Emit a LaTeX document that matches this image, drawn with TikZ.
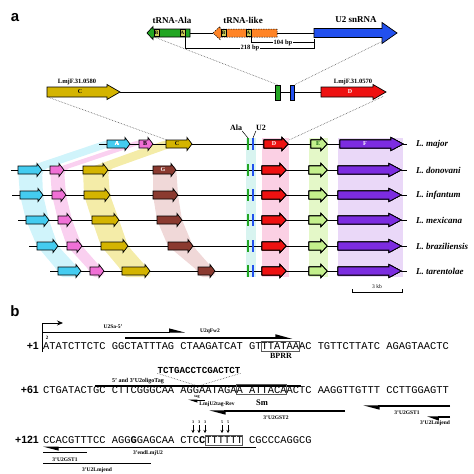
\documentclass[tikz,border=0pt]{standalone}
\usepackage{fontspec}
\setmainfont{Liberation Serif}
\setmonofont{Liberation Mono}
\newfontfamily\panelfont{Liberation Sans}
\usetikzlibrary{arrows.meta}

\definecolor{trnagreen}{HTML}{22A622}
\definecolor{trnaorange}{HTML}{FF8426}
\definecolor{u2blue}{HTML}{2250EE}
\definecolor{motifyellow}{HTML}{CCCC55}
\definecolor{gcyan}{HTML}{44CCF0}
\definecolor{gpink}{HTML}{F070D6}
\definecolor{gyellow}{HTML}{D4B400}
\definecolor{gbrown}{HTML}{8B3A30}
\definecolor{gred}{HTML}{EE1111}
\definecolor{glime}{HTML}{C4F08C}
\definecolor{gpurple}{HTML}{7C2CE0}
\definecolor{bcyan}{HTML}{D0F4FB}
\definecolor{bpink}{HTML}{FAD0F0}
\definecolor{byellow}{HTML}{F4ECA8}
\definecolor{bbrown}{HTML}{F0D8D8}
\definecolor{bred}{HTML}{FBD0E4}
\definecolor{blime}{HTML}{E4F8C8}
\definecolor{bpurple}{HTML}{EAD8F8}
\definecolor{bsmall}{HTML}{D8F4F0}

\tikzset{
  genebox/.style={draw=black, line width=0.7pt, line join=miter},
  chrom/.style={line width=0.8pt},
  title/.style={font=\fontsize{9}{10}\selectfont\bfseries, inner sep=0},
  locus/.style={font=\fontsize{6.5}{7}\selectfont\bfseries, inner sep=0},
  glab/.style={font=\fontsize{6}{7}\selectfont\bfseries, inner sep=0},
  motif/.style={draw, fill=motifyellow, line width=0.5pt, minimum width=5.5,
    minimum height=7, inner sep=0, font=\fontsize{5}{5}\selectfont\bfseries},
  bar/.style={draw, line width=0.5pt, minimum width=4.5, minimum height=15, inner sep=0},
  zoomline/.style={densely dotted, gray!70!black, line width=0.6pt},
  species/.style={font=\fontsize{9}{10}\selectfont\bfseries\itshape, anchor=west, inner sep=0},
  seq/.style={font=\fontsize{10.4}{12}\selectfont\ttfamily, inner sep=0, anchor=base west},
  plabel/.style={font=\panelfont\fontsize{10.5}{12}\selectfont\bfseries, anchor=east, inner sep=0},
  prim/.style={font=\fontsize{5.5}{6}\selectfont\bfseries, inner sep=0},
  primer/.style={line width=1.3pt, -{Triangle[harpoon,length=14pt,width=7pt]}},
  seqbox/.style={draw=gray!70!black, line width=0.6pt},
}

% block arrow: x start, x tip, y, half body, half head, head length
\newcommand{\gene}[7][]{%
  \draw[genebox,#1] (#2,{#4-#5}) -- ({#3-#7},{#4-#5}) -- ({#3-#7},{#4-#6}) -- (#3,#4)
    -- ({#3-#7},{#4+#6}) -- ({#3-#7},{#4+#5}) -- (#2,{#4+#5}) -- cycle;}

\begin{document}
\begin{tikzpicture}[x=1pt,y=-1pt]
\useasboundingbox (0,0) rectangle (474,474);

% panel a
\node[font=\panelfont\fontsize{15}{16}\selectfont\bfseries] (pa) at (15,18) {a};

% inset with the tRNAs and U2
\node[title] (alaname) at (172,20) {tRNA-Ala};
\node[title] (likename) at (243,20) {tRNA-like};
\node[title] (u2name) at (356,20) {U2 snRNA};
\draw[chrom] (190,33) -- (213,33) (277,33) -- (314,33);
\gene[fill=trnagreen]{190}{147}{33}{4}{6.5}{(-6)}
\gene[fill=trnaorange, line width=0.5pt, dash pattern=on 1.5pt off 1pt]{277}{213}{33}{4}{6.5}{(-7)}
\gene[fill=u2blue]{314}{397}{33}{4.5}{10.5}{15}
\node[motif] (alaB) at (156.5,33) {B};
\node[motif] (alaA) at (182.5,33) {A};
\node[motif] (likeB) at (223.5,33) {B};
\node[motif] (likeA) at (248.5,33) {A};
\draw[line width=0.6pt] (likeA.south east) |- (314,42.5) -- (314,38.5);
\draw[line width=0.6pt] (alaA.south east) |- (314,48) -- (314,42.5);
\node[locus, fill=white, inner sep=1] (bp104) at (283,42.5) {104 bp};
\node[locus, fill=white, inner sep=1] (bp218) at (250,48) {218 bp};

% locus on chromosome 31
\node[locus] (c580) at (77,82) {LmjF.31.0580};
\node[locus] (c570) at (353,82) {LmjF.31.0570};
\draw[chrom] (120,92) -- (321,92);
\gene[fill=gyellow]{47}{120}{92}{5}{7.5}{13}
\gene[fill=gred]{321}{386}{92}{5}{7.5}{13}
\node[glab] (labC) at (80,92) {C};
\node[glab, white] (labD) at (350,92) {D};
\node[bar, fill=trnagreen] (gbar) at (277.5,92.5) {};
\node[bar, fill=u2blue] (bbar) at (292,92.5) {};
\coordinate (u2end) at (386,39.5);
\coordinate (cstart) at (49,97.5);
\coordinate (dend) at (383,96.5);
\coordinate (majC) at (167,140);
\coordinate (majD) at (288,140.5);
\draw[zoomline] (alaB.south west) -- (gbar.north);
\draw[zoomline] (u2end) -- (bbar.north east);
\draw[zoomline] (cstart) -- (majC);
\draw[zoomline] (dend) -- (majD);

% synteny bands
\begin{scope}[rounded corners=5pt]
\fill[bcyan] (107,140) -- (18,170) -- (20,195) -- (26,220) -- (37,246) -- (58,271) -- (58,277)
  -- (81,277) -- (81,271) -- (58,246) -- (49,220) -- (43,195) -- (42,170) -- (130,140) -- cycle;
\fill[bpink] (139,140) -- (50,170) -- (52,195) -- (58,220) -- (67,246) -- (90,271) -- (90,277)
  -- (104,277) -- (104,271) -- (82,246) -- (72,220) -- (66,195) -- (64,170) -- (153,140) -- cycle;
\fill[byellow] (166,140) -- (83,170) -- (84,195) -- (92,220) -- (101,246) -- (122,271) -- (122,277)
  -- (150,277) -- (150,271) -- (128,246) -- (119,220) -- (110,195) -- (108,170) -- (192,140) -- cycle;
\fill[bbrown] (153,165) -- (153,195) -- (157,220) -- (168,246) -- (198,271) -- (198,277)
  -- (215,277) -- (215,271) -- (193,246) -- (182,220) -- (178,195) -- (176,165) -- cycle;
\end{scope}
\fill[bsmall] (245.5,138) rectangle (255.5,277);
\fill[bred] (262,138) rectangle (289,277);
\fill[blime] (309,138) rectangle (328,277);
\fill[bpurple] (338,138) rectangle (403,277);

% six genomes
\foreach \y/\xs in {144/99,170/11,195/12,220/18,246/29,271/50}
  \draw[chrom] (\xs,\y) -- (407,\y);
\foreach \y/\ca/\cb/\pa/\pb/\ya/\yb in {144/107/130/139/153/166/192, 170/18/42/50/64/83/108,
    195/20/43/52/66/84/110, 220/26/49/58/72/92/119, 246/37/58/67/82/101/128, 271/58/81/90/104/122/150} {
  \gene[fill=gcyan]{\ca}{\cb}{\y}{4}{6.5}{5}
  \gene[fill=gpink]{\pa}{\pb}{\y}{4}{6.5}{5}
  \gene[fill=gyellow]{\ya}{\yb}{\y}{4}{6.5}{5}
}
\foreach \y/\ga/\gb in {170/153/176, 195/153/178, 220/157/182, 246/168/193, 271/198/215}
  \gene[fill=gbrown]{\ga}{\gb}{\y}{4}{6.5}{5}
\foreach \y/\dx in {144/2, 170/0, 195/0, 220/0, 246/0, 271/0} {
  \draw[trnagreen, line width=1.5pt] (248,\y-6) -- (248,\y+6);
  \draw[u2blue, line width=1.5pt] (253,\y-6) -- (253,\y+6);
  \gene[fill=gred]{262+\dx}{286+\dx}{\y}{4}{6.5}{6}
  \gene[fill=glime]{309+\dx}{327}{\y}{4}{6.5}{6}
  \gene[fill=gpurple]{338+\dx}{401+\dx}{\y}{4}{6.5}{12}
}
\node[glab, white] (labA) at (117,144) {A};
\node[glab] (labB) at (145,144) {B};
\node[glab] (labCm) at (177,144) {C};
\node[glab, white] (labG) at (163,170) {G};
\node[glab, white] (labDm) at (274,144) {D};
\node[glab, trnagreen!60!black] (labE) at (318,144) {E};
\node[glab, white] (labF) at (365,144) {F};
\node[title, font=\fontsize{8}{9}\selectfont\bfseries] (alalab) at (236,128) {Ala};
\node[title, font=\fontsize{8}{9}\selectfont\bfseries] (u2lab) at (261,128) {U2};
\draw[line width=0.5pt] (alalab.south east) -- (248,138);
\draw[line width=0.5pt] (u2lab.south west) -- (253,138);
\foreach \y/\sp [count=\i] in {144/major, 170/donovani, 195/infantum, 220/mexicana, 246/braziliensis, 271/tarentolae}
  \node[species] (sp\i) at (416,\y) {L. \sp};
\draw[line width=0.8pt] (352,289) -- (352,292) -- (402,292) -- (402,289);
\node[font=\fontsize{5.5}{6}\selectfont] (kb) at (377,286.5) {3 kb};

% panel b
\node[font=\panelfont\fontsize{15}{16}\selectfont\bfseries] (pb) at (15,311) {b};
\node[plabel] (n1) at (39,346) {+1};
\node[plabel] (n61) at (39,390) {+61};
\node[plabel] (n121) at (39,440) {+121};
\node[seq] (s1) at (43,349.5) {ATATCTTCTC GGCTATTTAG CTAAGATCAT GTTTATAAAC TGTTCTTATC AGAGTAACTC};
\node[seq] (s61) at (43,393.5) {CTGATACTGC CTTCGGGCAA AGGAATAGAA ATTACAACTC AAGGTTGTTT CCTTGGAGTT};
\node[seq] (s121) at (43,443.5) {CCACGTTTCC AGG\textbf{G}GAGCAA CTC\textbf{C}TTTTTT CGCCCAGGCG};

% +1 line
\draw[line width=0.8pt, -{Stealth[length=6pt,width=5pt]}] (42,352) -- (42,323) -- (63,323);
\node[prim, font=\fontsize{5}{5}\selectfont\bfseries] (tss) at (47,338) {2};
\node[prim] (u2sa) at (113,327) {U2Sa-5'};
\draw[primer, line width=1pt] (43,332) -- (185,332);
\node[prim] (u2qfw) at (210,331) {U2qFw2};
\draw[primer, line width=1.8pt] (125,338) -- (293,338);
\draw[seqbox] (261.4,341) rectangle (298.8,351);
\node[prim, font=\fontsize{8}{9}\selectfont\bfseries] (bprr) at (281,356) {BPRR};

% +61 line
\node[font=\fontsize{9.2}{10}\selectfont\ttfamily\bfseries, inner sep=0] (tagseq) at (199,370) {TCTGACCTCGACTCT};
\coordinate (ins) at (198,386);
\draw[zoomline] (tagseq.south west) -- (ins) -- (tagseq.south east);
\node[prim, font=\fontsize{6}{7}\selectfont\bfseries] (oligo) at (138,381) {5' and 3'U2oligoTag};
\draw[line width=1.8pt] (95,386) -- (301,386);
\draw[seqbox] (236.4,384.5) rectangle (286.4,394.5);
\node[prim, font=\fontsize{8.5}{9}\selectfont\bfseries] (sm) at (262,403) {Sm};
\node[prim, font=\fontsize{4}{4}\selectfont\bfseries] (tag) at (197,397) {tag};
\draw[primer, line width=0.9pt, -{Triangle[harpoon,length=8pt,width=5pt]}] (205,400) -- (188,400);
\node[prim, font=\fontsize{5.5}{6}\selectfont\bfseries] (tagrev) at (217,404.5) {LmjU2tag-Rev};
\draw[primer] (345,411) -- (209,411);
\node[prim] (gst2) at (276,418) {3'U2GST2};
\draw[primer] (450,406) -- (363,406);
\node[prim] (gst1) at (407,412.5) {3'U2GST1};
\draw[primer, -{Triangle[harpoon,length=10pt,width=7pt]}] (450,417) -- (427,417);
\node[prim] (lmjend) at (435,423.5) {3'U2Lmjend};

% +121 line
\foreach \x/\n in {193/3, 199/3, 205/3, 222/5, 228/5} {
  \node[font=\fontsize{4}{4}\selectfont\bfseries, inner sep=0] (cnt\x) at (\x,422) {\n};
  \draw[line width=0.6pt, -{Stealth[length=3pt,width=3pt]}] (\x,425) -- (\x,433);
}
\draw[seqbox] (205.2,435) rectangle (242.7,445.5);
\draw[line width=0.8pt, -{Triangle[harpoon,length=14pt,width=7pt]}] (256,447) -- (43,447);
\node[prim] (endlmj) at (148,453) {3'endLmjU2};
\draw[line width=1.3pt] (43,452.5) -- (87,452.5);
\node[prim] (gst1b) at (65,459.5) {3'U2GST1};
\draw[line width=1.3pt] (43,463.5) -- (151,463.5);
\node[prim] (lmjendb) at (97,470.5) {3'U2Lmjend};
\end{tikzpicture}
\end{document}
